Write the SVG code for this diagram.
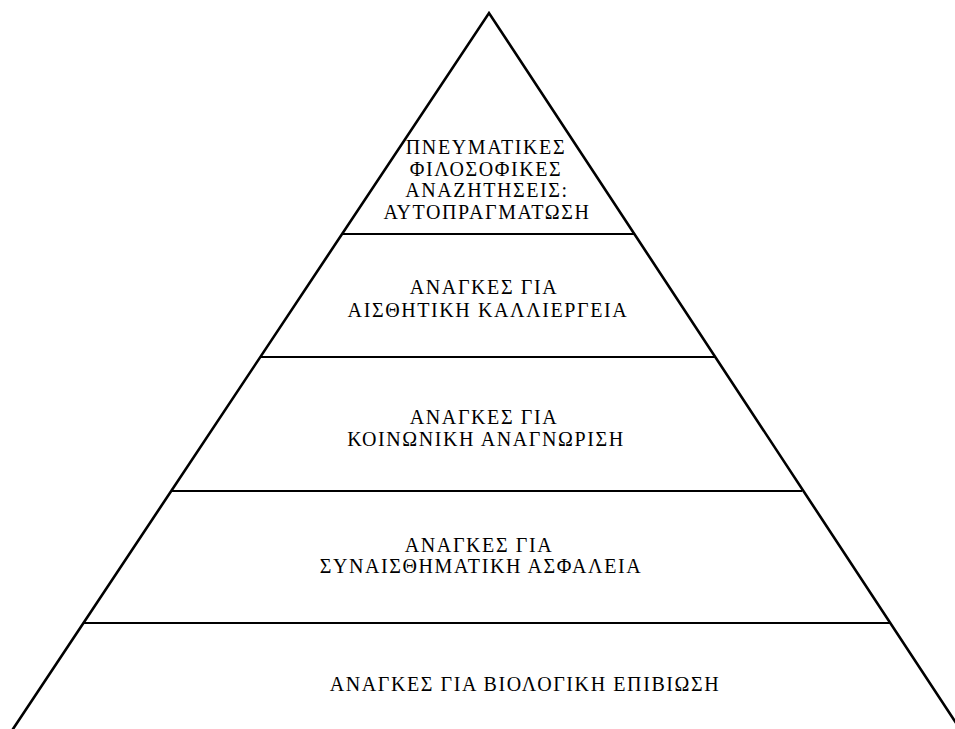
<svg xmlns="http://www.w3.org/2000/svg" width="955" height="729" viewBox="0 0 955 729">
<style>
.t{font-family:"Liberation Serif","Times New Roman",serif;font-size:20px;fill:#000;text-anchor:middle;letter-spacing:1.6px}
.side{stroke:#000;stroke-width:2.6;fill:none;stroke-linecap:round;stroke-linejoin:miter}
.div{stroke:#000;stroke-width:2.2;fill:none}
</style>
<rect width="955" height="729" fill="#fff"/>
<g id="connectors">
<path class="side" d="M13,729 L489,13 L960,729"/>
<line class="div" x1="342" y1="234" x2="634" y2="234"/>
<line class="div" x1="260" y1="357" x2="715" y2="357"/>
<line class="div" x1="172" y1="491" x2="802" y2="491"/>
<line class="div" x1="84" y1="623" x2="890" y2="623"/>
</g>
<g id="level5">
<text class="t" x="486" y="154">ΠΝΕΥΜΑΤΙΚΕΣ</text>
<text class="t" x="486" y="176">ΦΙΛΟΣΟΦΙΚΕΣ</text>
<text class="t" x="487" y="197">ΑΝΑΖΗΤΗΣΕΙΣ:</text>
<text class="t" x="487" y="219">ΑΥΤΟΠΡΑΓΜΑΤΩΣΗ</text>
</g>
<g id="level4">
<text class="t" x="484" y="294">ΑΝΑΓΚΕΣ ΓΙΑ</text>
<text class="t" x="488" y="317">ΑΙΣΘΗΤΙΚΗ ΚΑΛΛΙΕΡΓΕΙΑ</text>
</g>
<g id="level3">
<text class="t" x="484" y="424">ΑΝΑΓΚΕΣ ΓΙΑ</text>
<text class="t" x="486" y="446">ΚΟΙΝΩΝΙΚΗ ΑΝΑΓΝΩΡΙΣΗ</text>
</g>
<g id="level2">
<text class="t" x="479" y="552">ΑΝΑΓΚΕΣ ΓΙΑ</text>
<text class="t" x="481" y="573">ΣΥΝΑΙΣΘΗΜΑΤΙΚΗ ΑΣΦΑΛΕΙΑ</text>
</g>
<g id="level1">
<text class="t" x="525" y="691">ΑΝΑΓΚΕΣ ΓΙΑ ΒΙΟΛΟΓΙΚΗ ΕΠΙΒΙΩΣΗ</text>
</g>
</svg>
